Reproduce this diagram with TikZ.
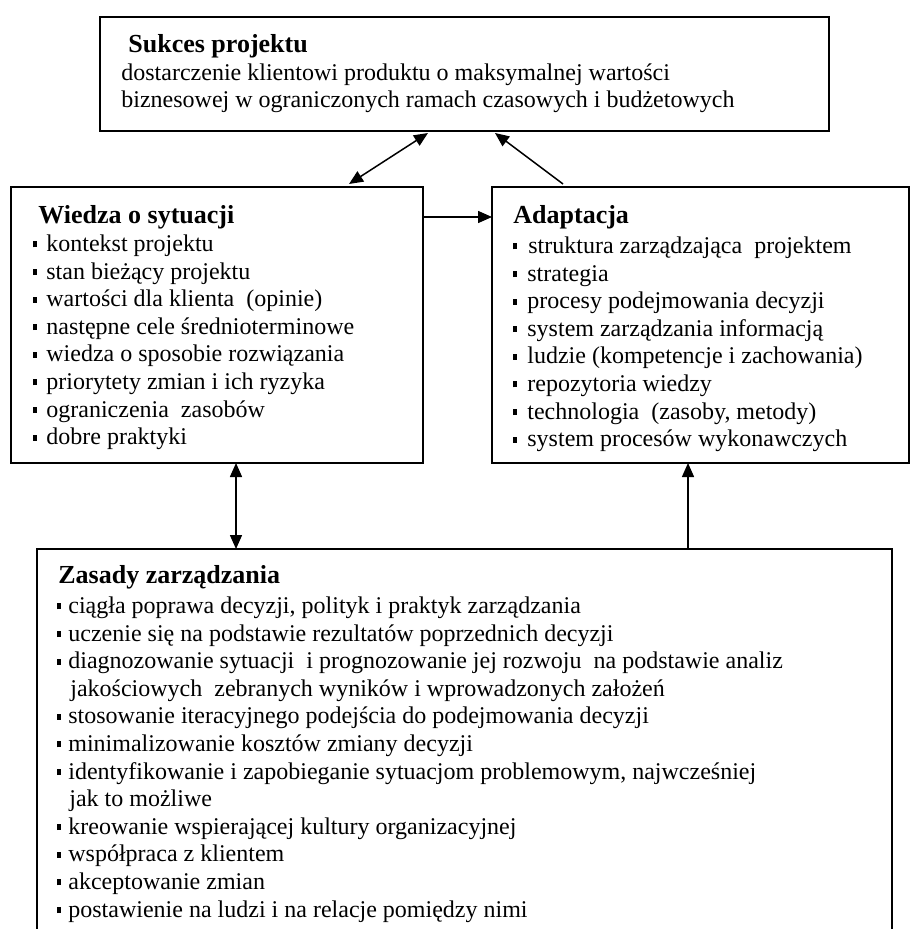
\documentclass[tikz,border=0pt]{standalone}
\usepackage{fontspec}
\setmainfont{Liberation Serif}
\usetikzlibrary{arrows.meta,calc,fit}

\newcommand{\bul}[1][6.5pt]{\makebox[#1][l]{\rule[2pt]{2pt}{3pt}}}
\newcommand{\boxtitle}[1]{{\fontsize{13}{13.8}\selectfont\bfseries\strut #1}}

\begin{document}
\begin{tikzpicture}
  [x=0.5pt,y=-0.5pt,>={Triangle[length=7pt,width=6pt]},
   panel/.style={draw,line width=1pt,inner sep=0pt,outer sep=0pt},
   txt/.style={anchor=north west,align=left,inner sep=0pt,font=\fontsize{12}{13.8}\selectfont},
   link/.style={line width=0.75pt}]
  \clip (0,0) rectangle (910,929);

  \node[panel,fit={(100,17) (829,131)}] (sukces) {};
  \node[panel,fit={(11,187) (423,463)}] (wiedza) {};
  \node[panel,fit={(492,187) (909,463)}] (adaptacja) {};
  \node[panel,fit={(37,549) (892,960)}] (zasady) {};

  % title baselines at 52, 223, 223, 583 px
  \node[txt] (sukcestxt) at (121,32.7) {\hspace*{3.5pt}\boxtitle{Sukces projektu}\\
    dostarczenie klientowi produktu o maksymalnej wartości\\
    biznesowej w ograniczonych ramach czasowych i budżetowych};

  \node[txt] (wiedzatxt) at (33,203.7) {\hspace*{2.5pt}\boxtitle{Wiedza o sytuacji}\\[0.2pt]
    \bul kontekst projektu\\
    \bul stan bieżący projektu\\
    \bul wartości dla klienta~ (opinie)\\
    \bul następne cele średnioterminowe\\
    \bul wiedza o sposobie rozwiązania\\
    \bul priorytety zmian i ich ryzyka\\
    \bul ograniczenia~ zasobów\\
    \bul dobre praktyki};

  \node[txt] (adaptacjatxt) at (513,203.7) {\boxtitle{Adaptacja}\\[1.2pt]
    \bul[7.5pt]struktura zarządzająca~ projektem\\
    \bul[7pt]strategia\\
    \bul[7pt]procesy podejmowania decyzji\\
    \bul[7pt]system zarządzania informacją\\
    \bul[7pt]ludzie (kompetencje i zachowania)\\
    \bul[7pt]repozytoria wiedzy\\
    \bul[7pt]technologia~ (zasoby, metody)\\
    \bul[7pt]system procesów wykonawczych};

  \node[txt] (zasadytxt) at (57,563.7) {\hspace*{0.5pt}\boxtitle{Zasady zarządzania}\\[1.2pt]
    \bul[5.5pt]ciągła poprawa decyzji, polityk i praktyk zarządzania\\
    \bul[5.5pt]uczenie się na podstawie rezultatów poprzednich decyzji\\
    \bul[5.5pt]diagnozowanie sytuacji~ i prognozowanie jej rozwoju~ na podstawie analiz\\
    \hspace*{6.5pt}jakościowych~ zebranych wyników i wprowadzonych założeń\\
    \bul[5.5pt]stosowanie iteracyjnego podejścia do podejmowania decyzji\\
    \bul[5.5pt]minimalizowanie kosztów zmiany decyzji\\
    \bul[5.5pt]identyfikowanie i zapobieganie sytuacjom problemowym, najwcześniej\\
    \hspace*{6pt}jak to możliwe\\
    \bul[5.5pt]kreowanie wspierającej kultury organizacyjnej\\
    \bul[5.5pt]współpraca z klientem\\
    \bul[5.5pt]akceptowanie zmian\\
    \bul[5.5pt]postawienie na ludzi i na relacje pomiędzy nimi};

  \coordinate (w1) at ($(wiedza.north west)+(338,-3)$);
  \coordinate (s1) at ($(sukces.south west)+(328,2)$);
  \coordinate (a1) at ($(adaptacja.north west)+(71,-3)$);
  \coordinate (s2) at ($(sukces.south west)+(395,2)$);
  \coordinate (w2) at ($(wiedza.north east)+(0,30)$);
  \coordinate (a2) at ($(adaptacja.north west)+(0,30)$);
  \coordinate (w3) at ($(wiedza.south west)+(225,0)$);
  \coordinate (z1) at ($(zasady.north west)+(199,0)$);
  \coordinate (z2) at ($(zasady.north west)+(651,0)$);
  \coordinate (a3) at ($(adaptacja.south west)+(196,0)$);

  \foreach \from/\to/\tip in {w1/s1/<->,a1/s2/->,w2/a2/->,w3/z1/<->,z2/a3/->}
    \draw[link,\tip] (\from) -- (\to);

\end{tikzpicture}
\end{document}
